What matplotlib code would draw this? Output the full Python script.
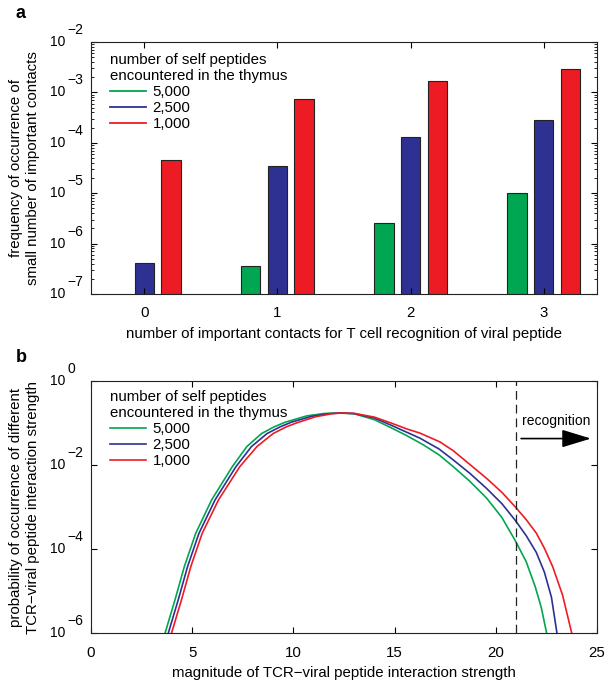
import matplotlib.pyplot as plt
import matplotlib.transforms as mtransforms
from matplotlib.ticker import NullLocator, FixedLocator
import numpy as np

plt.rcParams['font.family'] = ['Liberation Sans', 'DejaVu Sans']
plt.rcParams['font.size'] = 10.8
plt.rcParams['xtick.direction'] = 'in'
plt.rcParams['ytick.direction'] = 'in'
plt.rcParams['axes.linewidth'] = 0.8
plt.rcParams['axes.edgecolor'] = '#222222'

# series labels and colours
n_self = ['5,000', '2,500', '1,000']
colors = ['#00a651', '#2e3192', '#ed1c24']

# panel a: frequency of small number of important contacts
contacts = [0, 1, 2, 3]
freq_5000 = [0, 3.6e-7, 2.6e-6, 1.0e-5]
freq_2500 = [4.1e-7, 3.5e-5, 1.3e-4, 2.8e-4]
freq_1000 = [4.6e-5, 7.4e-4, 1.7e-3, 2.9e-3]

# panel b: log10 probability vs interaction strength
strength_5000 = [3.66, 4.15, 4.61, 5.17, 5.96, 6.98, 7.70, 8.43, 9.05, 9.6, 10.66, 11.5, 12.2,
                 13.0, 14.0, 14.77, 15.6, 16.42, 17.2, 17.9, 18.7, 19.55, 20.3, 20.95,
                 21.5, 21.95, 22.25, 22.51]
logp_5000 = [-6.0, -5.21, -4.42, -3.63, -2.83, -2.04, -1.56, -1.25, -1.09, -0.98, -0.83, -0.775, -0.76,
             -0.78, -0.92, -1.10, -1.30, -1.52, -1.76, -2.04, -2.38, -2.79, -3.25, -3.79,
             -4.30, -4.90, -5.40, -6.0]
strength_2500 = [3.82, 4.31, 4.77, 5.33, 6.13, 7.16, 7.93, 8.70, 9.35, 9.9, 10.9, 11.7, 12.3,
                 13.0, 14.0, 14.77, 15.6, 16.25, 17.2, 17.9, 18.7, 19.55, 20.3, 20.95,
                 21.5, 22.0, 22.4, 22.75, 23.02]
logp_2500 = [-6.0, -5.21, -4.42, -3.63, -2.83, -2.04, -1.56, -1.25, -1.09, -0.98, -0.84, -0.78, -0.76,
             -0.775, -0.88, -1.04, -1.22, -1.36, -1.62, -1.88, -2.19, -2.56, -2.92, -3.31,
             -3.68, -4.08, -4.55, -5.15, -6.0]
strength_1000 = [3.98, 4.47, 4.93, 5.49, 6.30, 7.35, 8.2, 9.0, 9.65, 10.2, 11.1, 11.9, 12.4,
                 13.0, 14.0, 14.77, 15.6, 16.25, 17.24, 17.9, 18.7, 19.55, 20.3, 20.95,
                 21.5, 22.0, 22.4, 22.81, 23.3, 23.75]
logp_1000 = [-6.0, -5.21, -4.42, -3.63, -2.83, -2.04, -1.56, -1.25, -1.09, -0.99, -0.85, -0.78, -0.76,
             -0.77, -0.86, -0.99, -1.14, -1.24, -1.45, -1.66, -1.98, -2.32, -2.65, -2.99,
             -3.30, -3.62, -3.98, -4.42, -5.1, -6.0]

threshold = 21
legend_title = 'number of self peptides\nencountered in the thymus'


def matlab_log_labels(ax, exps):
    # "10" with the exponent raised beside it, as MATLAB prints it
    trans = mtransforms.blended_transform_factory(ax.transAxes, ax.transData)
    for e in exps:
        ax.annotate('10', xy=(0, 10.0 ** e), xycoords=trans, xytext=(-26, 0),
                    textcoords='offset pixels', ha='right', va='center', fontsize=10)
        ax.annotate(str(e).replace('-', '\u2212'), xy=(0, 10.0 ** e), xycoords=trans,
                    xytext=(-24, 12), textcoords='offset pixels', ha='left', va='center',
                    fontsize=10)


def add_legend(ax, top):
    ax.legend(title=legend_title, loc='upper left', bbox_to_anchor=(0.037, top),
              frameon=False, alignment='left', borderpad=0, borderaxespad=0,
              handlelength=2.45, handletextpad=0.4, labelspacing=0.14)


fig = plt.figure(figsize=(6.12, 6.88), dpi=100)
ax1 = fig.add_axes([0.1487, 0.5727, 0.8268, 0.3663])
ax2 = fig.add_axes([0.1487, 0.0799, 0.8268, 0.3663])

# ---- panel a ----
width = 0.145
offsets = [-0.2, 0, 0.2]
for vals, off, c, lab in zip([freq_5000, freq_2500, freq_1000], offsets, colors, n_self):
    x = np.array(contacts, dtype=float) + off
    v = np.array(vals)
    m = v > 0
    ax1.bar(x[m], v[m], width=width, bottom=0, color=c, edgecolor='#222222', linewidth=0.8)
    ax1.plot([], [], color=c, lw=1.3, label=lab)

ax1.set_yscale('log')
ax1.set_ylim(1e-7, 1e-2)
ax1.set_xlim(-0.4, 3.4)
ax1.set_xticks(contacts)
ax1.tick_params(which='both', top=True, right=True, labelleft=False, pad=9)
ax1.tick_params(which='major', length=4)
ax1.tick_params(which='minor', length=2)
ax1.xaxis.set_minor_locator(NullLocator())
matlab_log_labels(ax1, [-7, -6, -5, -4, -3, -2])
ax1.set_xlabel('number of important contacts for T cell recognition of viral peptide', labelpad=5)
ax1.set_ylabel('frequency of occurrence of\nsmall number of important contacts', labelpad=37)
add_legend(ax1, 0.958)

# ---- panel b ----
for xs, ls, c, lab in zip([strength_5000, strength_2500, strength_1000],
                          [logp_5000, logp_2500, logp_1000], colors, n_self):
    ax2.plot(xs, 10.0 ** np.array(ls), color=c, lw=1.2, label=lab)

ax2.set_yscale('log')
ax2.set_ylim(1e-6, 1)
ax2.set_xlim(0, 25)
ax2.yaxis.set_major_locator(FixedLocator([1e-6, 1e-4, 1e-2, 1]))
ax2.yaxis.set_minor_locator(NullLocator())
ax2.set_xticks([0, 5, 10, 15, 20, 25])
ax2.tick_params(which='both', top=True, right=True, labelleft=False, pad=9, length=4)
matlab_log_labels(ax2, [-6, -4, -2, 0])
ax2.axvline(threshold, color='#222222', lw=0.9, dashes=(7, 4))
ax2.annotate('', xy=(24.7, 10 ** -1.37), xytext=(21.25, 10 ** -1.37),
             arrowprops=dict(arrowstyle='-|>,head_length=1.8,head_width=0.55',
                             mutation_scale=10, color='black', lw=1.2, shrinkA=0, shrinkB=0))
ax2.text(21.3, 10 ** -0.95, 'recognition', ha='left', va='center', fontsize=10)
ax2.set_xlabel('magnitude of TCR\u2212viral peptide interaction strength', labelpad=5)
ax2.set_ylabel('probability of occurrence of different\nTCR\u2212viral peptide interaction strength',
               labelpad=37)
add_legend(ax2, 0.965)

fig.text(20 / 612, 1 - 14 / 688, 'a', fontsize=13, fontweight='bold', ha='center', va='center')
fig.text(21 / 612, 1 - 358 / 688, 'b', fontsize=13, fontweight='bold', ha='center', va='center')

fig.savefig('out.png', dpi=100)
